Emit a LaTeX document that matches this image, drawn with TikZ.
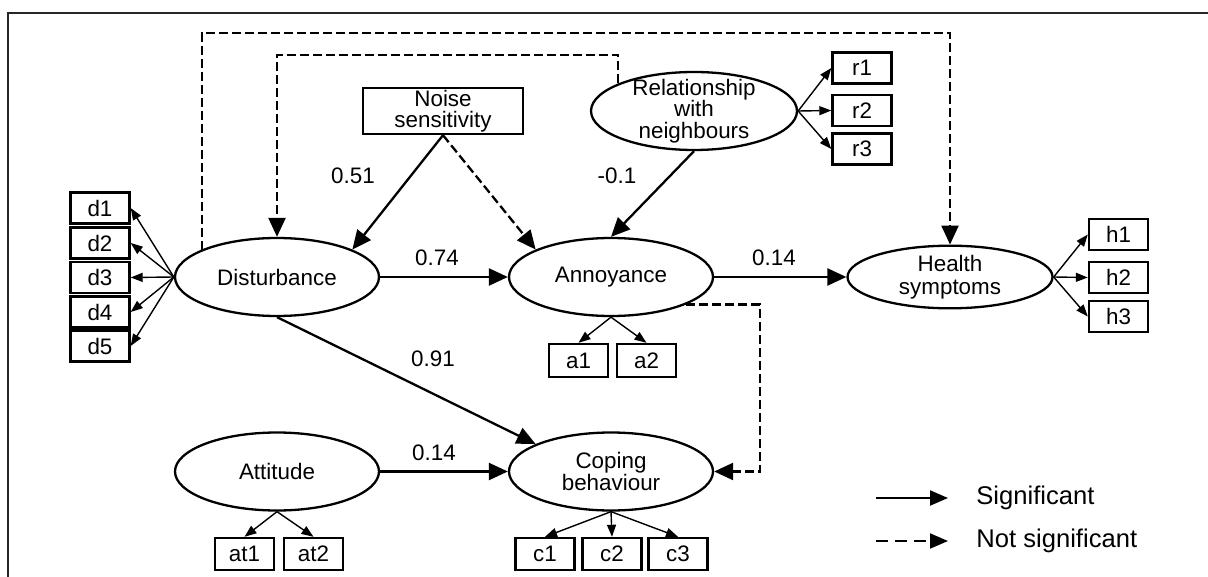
\documentclass[tikz,border=0pt]{standalone}
\usepackage{fontspec}
\setmainfont{Liberation Sans}
\usetikzlibrary{shapes, arrows.meta, positioning}

\begin{document}
\begin{tikzpicture}[x=0.5pt, y=-0.5pt,
  font=\fontsize{11.2}{10.5}\selectfont,
  latent/.style={draw, line width=1.15pt, ellipse, minimum width=102pt, minimum height=39pt, inner sep=0pt, align=center},
  item/.style={draw, line width=1.2pt, minimum width=29.5pt, minimum height=15.5pt, inner sep=0pt},
  effect/.style={line width=1.15pt, -{Triangle[length=9.5pt,width=8.5pt]}},
  nseffect/.style={effect, dash pattern=on 4.5pt off 2pt},
  load/.style={line width=0.7pt, -{Triangle[length=6pt,width=4.5pt]}},
  coef/.style={inner sep=0pt}]
\useasboundingbox (0,0) rectangle (1208,577);
\draw[line width=1.1pt, black!85] (8,577) -- (8,13) -- (1208,13);

% Latent variables
\node[latent] (dist) at (277,277) {Disturbance};
\node[latent] (ann) at (611,277) {Annoyance};
\node[latent, minimum width=102.5pt, minimum height=31pt, font=\fontsize{11.2}{11.7}\selectfont] (health) at (950,277) {Health\\symptoms};
\node[latent, font=\fontsize{11.2}{10.6}\selectfont] (cope) at (611,471.5) {Coping\\behaviour};
\node[latent] (att) at (277,471.5) {Attitude};
\node[latent, minimum width=103pt, inner ysep=-2.3pt, font=\fontsize{11.2}{10.8}\selectfont] (rel) at (694,111) {Relationship\\with\\neighbours};
\node[draw, line width=1.2pt, minimum width=80pt, minimum height=23pt, inner sep=0pt, align=center, font=\fontsize{11.2}{10.6}\selectfont] (noise) at (443,111) {Noise\\sensitivity};

% Indicators
\node[item] (d1) at (100,208) {d1};
\node[item] (d2) at (100,243) {d2};
\node[item] (d3) at (100,277.5) {d3};
\node[item] (d4) at (100,312) {d4};
\node[item] (d5) at (100,346) {d5};
\node[item] (r1) at (862,68) {r1};
\node[item] (r2) at (862,110.5) {r2};
\node[item] (r3) at (862,149) {r3};
\node[item] (h1) at (1118.5,234.5) {h1};
\node[item] (h2) at (1118.5,277.5) {h2};
\node[item] (h3) at (1118.5,316.5) {h3};
\node[item, minimum height=16.5pt] (a1) at (578.5,360.5) {a1};
\node[item, minimum height=16.5pt] (a2) at (646.5,360.5) {a2};
\node[item, minimum height=16pt] (c1) at (545,554) {c1};
\node[item, minimum height=16pt] (c2) at (612,554) {c2};
\node[item, minimum height=16pt] (c3) at (678,554) {c3};
\node[item, minimum height=16pt] (at1) at (244.5,554) {at1};
\node[item, minimum height=16pt] (at2) at (313.5,554) {at2};

\draw[load] (dist.west) -- (d1.east);
\draw[load] (dist.west) -- (d2.east);
\draw[load] (dist.west) -- (d3.east);
\draw[load] (dist.west) -- (d4.east);
\draw[load] (dist.west) -- (d5.east);
\draw[load] (rel.east) -- (r1.west);
\draw[load] (rel.east) -- (r2.west);
\draw[load] (rel.east) -- (r3.west);
\draw[load] (health.east) -- (h1.west);
\draw[load] (health.east) -- (h2.west);
\draw[load] (health.east) -- (h3.west);
\draw[load] (ann.south) -- (a1.north);
\draw[load] (ann.south) -- (a2.north);
\draw[load] (cope.south) -- (c1.north);
\draw[load] (cope.south) -- (c2.north);
\draw[load] (cope.south) -- (c3.north);
\draw[load] (att.south) -- (at1.north);
\draw[load] (att.south) -- (at2.north);

% Structural paths
\draw[effect] (noise.south) -- (dist.20);
\draw[nseffect] (noise.south) -- (ann.160);
\draw[effect] (rel.south) -- (ann.north);
\draw[effect] (dist.east) -- (ann.west);
\draw[effect] (ann.east) -- (health.west);
\draw[effect] (dist.south) -- (cope.160);
\draw[effect] (att.east) -- (cope.west);

\coordinate (outerTop) at (950,33);
\coordinate (innerTop) at (277,55);
\coordinate (sideR) at (760,471.5);
\draw[nseffect] (dist.160) |- (outerTop) -- (health.north);
\draw[nseffect] (rel.160) |- (innerTop) -- (dist.north);
\draw[nseffect] (ann.-20) -| (sideR) -- (cope.east);

\node[coef] (lNoiseDist) at (353,176) {0.51};
\node[coef] (lRelAnn) at (617,176) {-0.1};
\node[coef] (lDistAnn) at (437,258) {0.74};
\node[coef] (lAnnHealth) at (774,258) {0.14};
\node[coef] (lDistCope) at (433,359) {0.91};
\node[coef] (lAttCope) at (434,453) {0.14};

% Legend
\coordinate (sigA) at (876,498);
\coordinate (sigB) at (948,498);
\coordinate (nsA) at (876,541);
\coordinate (nsB) at (948,541);
\draw[line width=1pt, -{Triangle[length=9pt,width=7.5pt]}] (sigA) -- (sigB);
\draw[line width=1pt, dash pattern=on 6pt off 3.5pt, -{Triangle[length=9pt,width=7.5pt]}] (nsA) -- (nsB);
\node[anchor=west, inner sep=0pt, font=\fontsize{12.8}{14}\selectfont] (sigtxt) at (976,498) {Significant};
\node[anchor=west, inner sep=0pt, font=\fontsize{12.8}{14}\selectfont] (nstxt) at (976,541) {Not significant};
\end{tikzpicture}
\end{document}
